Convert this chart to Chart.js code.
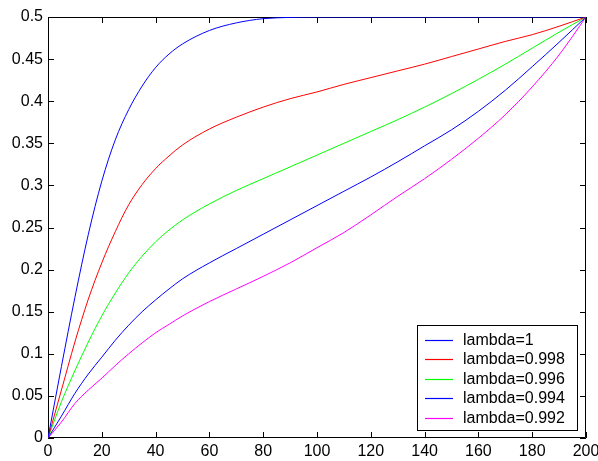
<!DOCTYPE html>
<html>
<head>
<meta charset="utf-8">
<script src="https://cdn.jsdelivr.net/npm/chart.js@4.4.0/dist/chart.umd.min.js"></script>
<style>
  html, body { margin: 0; padding: 0; background: #fff; }
  #wrap { width: 598px; height: 461px; }
</style>
</head>
<body>
<div id="wrap"><canvas id="lambdaChart" width="598" height="461"></canvas></div>
<script>
  // sample positions along x (same for every curve)
  const xs = [0, 5, 10, 15, 20, 25, 30, 35, 40, 45, 50, 60, 70, 80, 90, 100,
              110, 120, 130, 140, 150, 160, 170, 180, 190, 200];

  const lambda1 = [0, 0.085, 0.167, 0.242, 0.305, 0.354, 0.39, 0.418, 0.44, 0.456, 0.468,
                   0.484, 0.493, 0.498, 0.4995, 0.5, 0.5, 0.5, 0.5, 0.5, 0.5, 0.5, 0.5, 0.5, 0.5, 0.5];
  const lambda998 = [0, 0.057, 0.114, 0.165, 0.208, 0.245, 0.277, 0.301, 0.32, 0.335, 0.348,
                     0.367, 0.381, 0.393, 0.403, 0.411, 0.42, 0.428, 0.436, 0.444, 0.453, 0.462,
                     0.471, 0.479, 0.489, 0.5];
  const lambda996 = [0, 0.043, 0.08, 0.114, 0.145, 0.172, 0.196, 0.216, 0.233, 0.247, 0.259,
                     0.278, 0.294, 0.308, 0.322, 0.336, 0.35, 0.364, 0.378, 0.393, 0.409, 0.426,
                     0.444, 0.463, 0.482, 0.5];
  const lambda994 = [0, 0.026, 0.053, 0.076, 0.096, 0.116, 0.134, 0.15, 0.164, 0.177, 0.189,
                     0.208, 0.225, 0.242, 0.259, 0.276, 0.293, 0.31, 0.328, 0.347, 0.366, 0.388,
                     0.413, 0.441, 0.47, 0.5];
  const lambda992 = [0, 0.019, 0.041, 0.057, 0.071, 0.086, 0.1, 0.113, 0.125, 0.135, 0.145,
                     0.162, 0.177, 0.192, 0.208, 0.226, 0.244, 0.265, 0.287, 0.308, 0.331, 0.356,
                     0.384, 0.417, 0.455, 0.5];

  const seriesNames = ["lambda=1", "lambda=0.998", "lambda=0.996", "lambda=0.994", "lambda=0.992"];
  const seriesColors = ["#0000ff", "#ff0000", "#00ff00", "#0000ff", "#ff00ff"];
  const seriesValues = [lambda1, lambda998, lambda996, lambda994, lambda992];

  const xTicks = [0, 20, 40, 60, 80, 100, 120, 140, 160, 180, 200];
  const yTicks = [0, 0.05, 0.1, 0.15, 0.2, 0.25, 0.3, 0.35, 0.4, 0.45, 0.5];

  const FONT = "'Liberation Sans', Arial, sans-serif";

  // MATLAB style box with inward ticks on all four sides
  const boxPlugin = {
    id: 'matlabBox',
    beforeDatasetsDraw(chart) {
      const { ctx, chartArea: a, scales } = chart;
      const len = 6;
      ctx.save();
      ctx.strokeStyle = '#000';
      ctx.lineWidth = 1;
      ctx.beginPath();
      ctx.rect(a.left + 0.5, a.top + 0.5, a.right - a.left - 1, a.bottom - a.top - 1);
      xTicks.forEach(v => {
        const px = Math.round(scales.x.getPixelForValue(v)) + 0.5;
        ctx.moveTo(px, a.bottom); ctx.lineTo(px, a.bottom - len);
        ctx.moveTo(px, a.top); ctx.lineTo(px, a.top + len);
      });
      yTicks.forEach(v => {
        const py = Math.round(scales.y.getPixelForValue(v)) + 0.5;
        ctx.moveTo(a.left, py); ctx.lineTo(a.left + len, py);
        ctx.moveTo(a.right, py); ctx.lineTo(a.right - len, py);
      });
      ctx.stroke();
      ctx.restore();
    },
    afterDatasetsDraw(chart) {
      // legend box in lower right
      const { ctx } = chart;
      const bx = 417, by = 325, bw = 160, bh = 105;
      ctx.save();
      ctx.fillStyle = '#fff';
      ctx.fillRect(bx, by, bw, bh);
      ctx.strokeStyle = '#000';
      ctx.lineWidth = 1;
      ctx.strokeRect(bx + 0.5, by + 0.5, bw, bh);
      ctx.font = '16px ' + FONT;
      ctx.textBaseline = 'middle';
      chart.data.datasets.forEach((ds, i) => {
        const y = Math.round(339.5 + i * 19.5) + 0.5;
        ctx.strokeStyle = seriesColors[i];
        ctx.lineWidth = 1.2;
        ctx.beginPath();
        ctx.moveTo(425, y); ctx.lineTo(453, y);
        ctx.stroke();
        ctx.fillStyle = '#000';
        ctx.fillText(ds.label, 463, y);
      });
      ctx.restore();
    }
  };

  new Chart(document.getElementById('lambdaChart'), {
    type: 'line',
    data: {
      datasets: seriesValues.map((vals, i) => ({
        label: seriesNames[i],
        data: vals.map((v, j) => ({ x: xs[j], y: v })),
        borderColor: seriesColors[i],
        borderWidth: 1,
        pointRadius: 0,
        fill: false,
        cubicInterpolationMode: 'monotone'
      }))
    },
    options: {
      responsive: false,
      animation: false,
      layout: { padding: { top: 17, right: 12, left: 0, bottom: 0 } },
      plugins: { legend: { display: false }, tooltip: { enabled: false } },
      scales: {
        x: {
          type: 'linear',
          min: 0, max: 200,
          afterFit: s => { s.height = 23; s.paddingLeft = 0; s.paddingRight = 0; },
          afterBuildTicks: s => { s.ticks = xTicks.map(v => ({ value: v })); },
          grid: { display: false, drawTicks: false },
          border: { display: false },
          ticks: {
            color: '#000',
            padding: 4,
            maxRotation: 0,
            font: { family: FONT, size: 16 },
            callback: v => String(v)
          }
        },
        y: {
          min: 0, max: 0.5,
          afterFit: s => { s.width = 48; s.paddingTop = 0; s.paddingBottom = 0; },
          afterBuildTicks: s => { s.ticks = yTicks.map(v => ({ value: v })); },
          grid: { display: false, drawTicks: false },
          border: { display: false },
          ticks: {
            color: '#000',
            padding: 5,
            font: { family: FONT, size: 16 },
            callback: v => String(v)
          }
        }
      }
    },
    plugins: [boxPlugin]
  });
</script>
</body>
</html>
